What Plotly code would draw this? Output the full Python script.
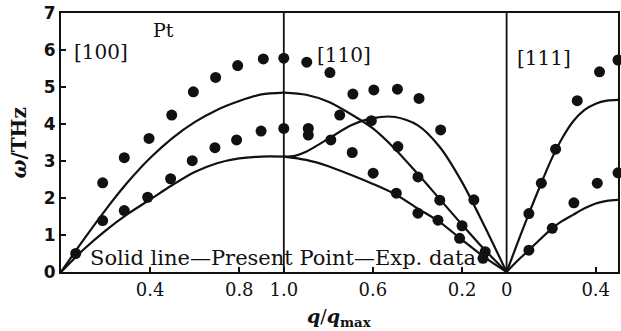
import plotly.graph_objects as go

# ---------------- data ----------------
# [100] branch, q/qmax from 0 to 1
q100_line = [0.0, 0.1, 0.2, 0.3, 0.4, 0.5, 0.6, 0.7, 0.8, 0.9, 1.0]
w100_L = [0.0, 0.86, 1.68, 2.43, 3.08, 3.62, 4.05, 4.38, 4.62, 4.80, 4.85]
w100_T = [0.0, 0.60, 1.12, 1.57, 1.96, 2.35, 2.70, 2.94, 3.07, 3.12, 3.12]

q100_exp_up = [0.066, 0.187, 0.284, 0.395, 0.497, 0.594, 0.694, 0.793, 0.908, 1.0]
w100_exp_up = [0.50, 2.41, 3.09, 3.61, 4.24, 4.87, 5.26, 5.58, 5.76, 5.78]
q100_exp_lo = [0.187, 0.284, 0.389, 0.492, 0.589, 0.691, 0.788, 0.898, 1.0]
w100_exp_lo = [1.39, 1.66, 2.02, 2.52, 3.01, 3.36, 3.57, 3.81, 3.88]

# [110] branch, q/qmax from 1 down to 0
q110_line = [1.0, 0.9, 0.8, 0.7, 0.6, 0.5, 0.4, 0.3, 0.2, 0.1, 0.0]
w110_L = [4.85, 4.79, 4.60, 4.27, 3.88, 3.32, 2.66, 1.97, 1.28, 0.61, 0.0]
w110_T2 = [3.12, 3.03, 2.86, 2.63, 2.38, 2.10, 1.72, 1.35, 0.87, 0.40, 0.0]
q110_mid = [1.0, 0.95, 0.9, 0.8, 0.7, 0.6, 0.5, 0.4, 0.3, 0.2, 0.1, 0.0]
w110_mid = [3.12, 3.14, 3.25, 3.60, 3.96, 4.16, 4.19, 3.97, 3.38, 2.43, 1.25, 0.0]

q110_exp = [0.897, 0.793, 0.69, 0.596, 0.49, 0.393, 0.296, 0.147,
            0.749, 0.607, 0.488, 0.398, 0.30, 0.20, 0.096,
            0.89, 0.89, 0.789, 0.693, 0.599, 0.495, 0.398, 0.308, 0.211, 0.106]
w110_exp = [5.67, 5.39, 4.81, 4.92, 4.94, 4.69, 3.84, 1.95,
            4.24, 4.09, 3.39, 2.57, 1.94, 1.25, 0.55,
            3.88, 3.70, 3.57, 3.23, 2.67, 2.13, 1.59, 1.40, 0.91, 0.37]

# [111] branch, q/qmax from 0 to 0.5
q111_line = [0.0, 0.05, 0.1, 0.15, 0.2, 0.25, 0.3, 0.35, 0.4, 0.45, 0.5]
w111_L = [0.0, 0.80, 1.58, 2.32, 3.03, 3.62, 4.08, 4.38, 4.55, 4.63, 4.65]
w111_T = [0.0, 0.31, 0.59, 0.88, 1.16, 1.38, 1.55, 1.72, 1.85, 1.92, 1.95]

q111_exp = [0.10, 0.156, 0.22, 0.317, 0.417, 0.50,
            0.10, 0.205, 0.302, 0.407, 0.50]
w111_exp = [1.58, 2.40, 3.32, 4.63, 5.41, 5.73,
            0.59, 1.18, 1.87, 2.40, 2.68]

tick_pos = [0.4, 0.8, 1.0, 1.4, 1.8, 2.0, 2.4]
tick_text = ["0.4", "0.8", "1.0", "0.6", "0.2", "0", "0.4"]
y_ticks = [0, 1, 2, 3, 4, 5, 6, 7]

# map each branch onto one continuous abscissa
def p100(q):
    return list(q)

def p110(q):
    return [2.0 - v for v in q]

def p111(q):
    return [2.0 + v for v in q]

BLACK = "#111111"
SERIF = "DejaVu Serif"

fig = go.Figure()

line_style = dict(color=BLACK, width=2.2, shape="spline", smoothing=0.8)
for x, y in [(p100(q100_line), w100_L), (p100(q100_line), w100_T),
             (p110(q110_line), w110_L), (p110(q110_line), w110_T2),
             (p110(q110_mid), w110_mid),
             (p111(q111_line), w111_L), (p111(q111_line), w111_T)]:
    fig.add_trace(go.Scatter(x=x, y=y, mode="lines", line=line_style,
                             hoverinfo="skip", showlegend=False))

marker_style = dict(color=BLACK, size=11)
for x, y in [(p100(q100_exp_up), w100_exp_up), (p100(q100_exp_lo), w100_exp_lo),
             (p110(q110_exp), w110_exp), (p111(q111_exp), w111_exp)]:
    fig.add_trace(go.Scatter(x=x, y=y, mode="markers", marker=marker_style,
                             cliponaxis=False, showlegend=False))

# branch separators
for xv in [1.0, 2.0]:
    fig.add_shape(type="line", xref="x", yref="y", x0=xv, x1=xv, y0=0, y1=7,
                  line=dict(color=BLACK, width=1.8))

annots = [
    dict(x=0.462, y=6.54, text="Pt", size=19),
    dict(x=0.18, y=5.95, text="[100]", size=20),
    dict(x=1.27, y=5.86, text="[110]", size=20),
    dict(x=2.168, y=5.78, text="[111]", size=20),
]
for a in annots:
    fig.add_annotation(x=a["x"], y=a["y"], xref="x", yref="y", text=a["text"],
                       showarrow=False, font=dict(family=SERIF, size=a["size"], color=BLACK))

fig.add_annotation(x=0.121, y=0.38, xref="x", yref="y", xanchor="left",
                   text="Solid line\u2014Present Point\u2014Exp. data", showarrow=False,
                   font=dict(family=SERIF, size=21, color=BLACK))

# axis titles
fig.add_annotation(x=-0.077, y=0.50, xref="paper", yref="paper",
                   xanchor="center", yanchor="middle",
                   text="<b><i>\u03c9</i>/THz</b>", textangle=-90, showarrow=False,
                   font=dict(family=SERIF, size=20, color=BLACK))
fig.add_annotation(x=0.50, y=-0.175, xref="paper", yref="paper",
                   xanchor="center", yanchor="middle",
                   text="<b><i>q</i></b>/<b><i>q</i></b><sub><b>max</b></sub>",
                   showarrow=False, font=dict(family=SERIF, size=19, color=BLACK))

fig.update_layout(
    width=621, height=331,
    margin=dict(l=61, r=3, t=13, b=59),
    paper_bgcolor="white", plot_bgcolor="white",
    xaxis=dict(range=[0, 2.5], tickvals=tick_pos, ticktext=tick_text,
               ticks="inside", ticklen=5, tickcolor=BLACK, tickwidth=1.5,
               showgrid=False, zeroline=False, showline=True, linecolor=BLACK,
               linewidth=2, mirror=True, automargin=False,
               tickfont=dict(family=SERIF, size=18, color=BLACK)),
    yaxis=dict(range=[0, 7], tickvals=y_ticks,
               ticks="inside", ticklen=5, tickcolor=BLACK, tickwidth=1.5,
               showgrid=False, zeroline=False, showline=True, linecolor=BLACK,
               linewidth=2, mirror=True, automargin=False,
               tickfont=dict(family="DejaVu Sans", size=17, color=BLACK, weight="bold")),
)

# the page body has a default 8 px margin; remove it so the figure fills the window
fig.write_html("out.html", config={"displayModeBar": False},
               post_script="document.body.style.margin='0';")
